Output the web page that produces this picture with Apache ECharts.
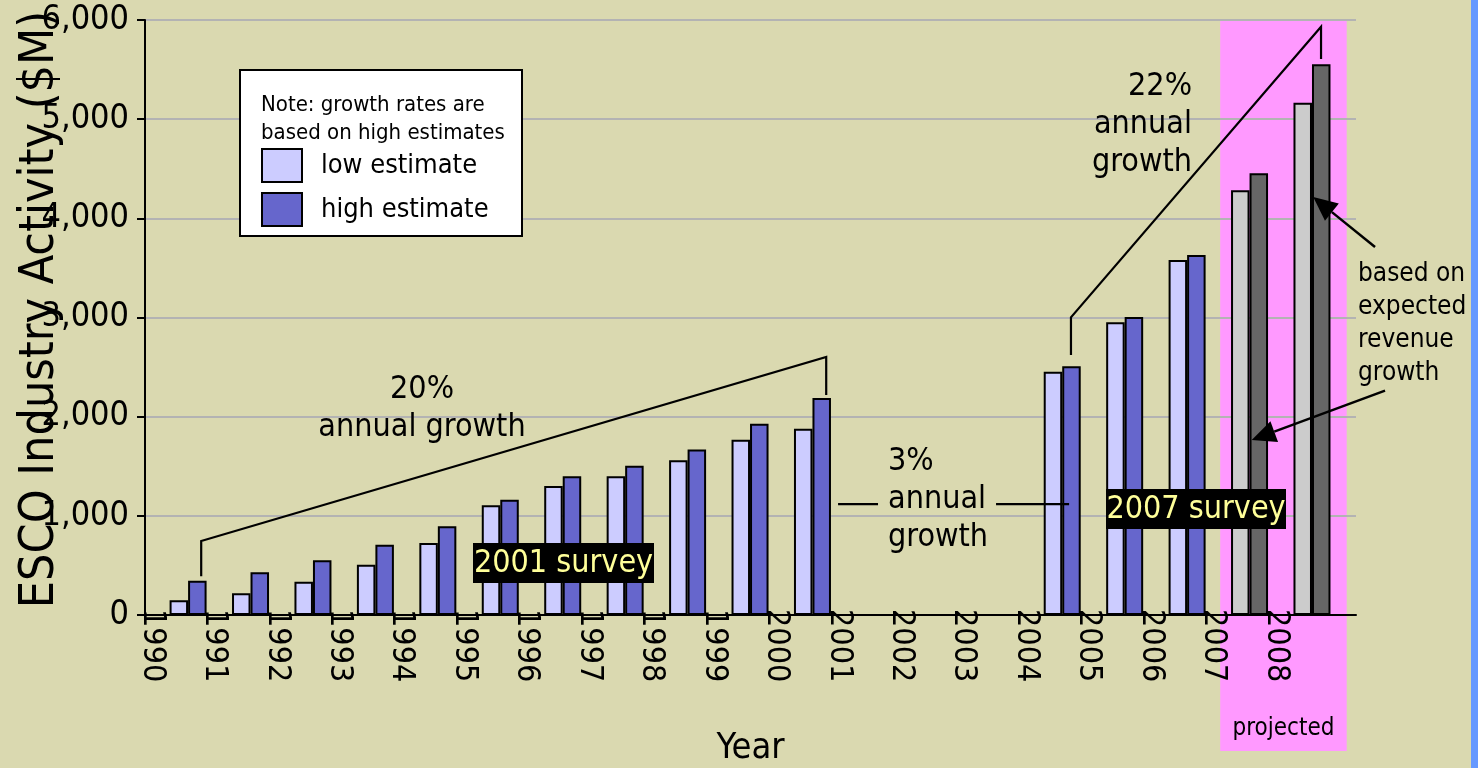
<!DOCTYPE html>
<html><head><meta charset="utf-8">
<script src="https://cdn.jsdelivr.net/npm/echarts@6/dist/echarts.min.js"></script>
<style>html,body{margin:0;padding:0;background:#DAD9B0;}#c{width:1478px;height:768px;}</style>
</head><body><div id="c"></div>
<script>
// ---- data ----
const years = [1990,1991,1992,1993,1994,1995,1996,1997,1998,1999,2000,2001,2002,2003,2004,2005,2006,2007,2008];
const lowEstimate  = [148,219,336,507,726,1106,1300,1398,1560,1767,1878,null,null,null,2453,2951,3580,4282,5166];
const highEstimate = [346,430,551,709,894,1162,1398,1505,1670,1929,2188,null,null,null,2508,3005,3630,4454,5553];
const projectedYears = [2007, 2008];
const xTickLabels = ['1990','1991','1992','1993','1994','1995','1996','1997','1998','1999','2000','2001','2002','2003','2004','2005','2006','2007','2008'];
const yTickValues = [0,1000,2000,3000,4000,5000,6000];

// annotation anchors in data coordinates [year, value]
const bracket20 = [[1990.21,390],[1990.21,746],[2000.22,2602],[2000.22,2218]];
const bracket22 = [[2004.14,2622],[2004.14,3002],[2008.145,5932],[2008.145,5606]];
const line3Left = [[2000.41,1119],[2001.05,1119]];
const line3Right = [[2002.94,1119],[2004.11,1119]];
const arrow1 = [[2009.01,3711],[2008.02,4215]];
const arrow2 = [[2009.17,2262],[2007.035,1765]];
const projectedSpan = [2006.53, 2008.556];

const FONT = "'DejaVu Sans Condensed','DejaVu Sans',sans-serif";
const labelShift = 0.577;
const LOW = '#CCCCFF', HIGH = '#6666CC', LOWP = '#CCCCCC', HIGHP = '#666666';

function items(vals, projColor) {
  return years.map((y, i) => vals[i] == null ? null : {
    value: [y, vals[i]],
    itemStyle: projectedYears.includes(y) ? {color: projColor} : undefined
  }).filter(d => d);
}

const chart = echarts.init(document.getElementById('c'), null, {renderer: 'canvas'});
chart.setOption({
  backgroundColor: '#DAD9B0',
  animation: false,
  textStyle: {fontFamily: FONT},
  grid: {left: 145, right: 122, top: 20, bottom: 153, outerBoundsMode: 'none'},
  legend: {
    orient: 'vertical', left: 261, top: 148, itemWidth: 40, itemHeight: 33, itemGap: 9,
    padding: 0, z: 10, icon: 'rect',
    textStyle: {fontFamily: FONT, fontSize: 27, color: '#000', padding: [0,0,0,14]},
    data: ['low estimate', 'high estimate']
  },
  xAxis: {
    type: 'value', min: 1989.31, max: 2008.705,
    axisLine: {show: true, onZero: true, lineStyle: {color: '#000', width: 2}},
    axisTick: {show: false},
    splitLine: {show: false},
    axisLabel: {
      rotate: -90, margin: -6, fontSize: 32, color: '#000', fontFamily: FONT,
      customValues: years.map(y => y - labelShift),
      formatter: v => xTickLabels[Math.round(v + labelShift) - years[0]] || ''
    },
    name: 'Year', nameLocation: 'middle', nameGap: 116, nameMoveOverlap: false,
    nameTextStyle: {fontSize: 36, color: '#000', fontFamily: FONT}
  },
  yAxis: {
    type: 'value', min: yTickValues[0], max: yTickValues[yTickValues.length-1], interval: 1000,
    axisLine: {show: true, lineStyle: {color: '#000', width: 2}},
    axisTick: {show: true, length: 8, lineStyle: {color: '#000', width: 2}},
    splitLine: {show: true, lineStyle: {color: '#B3B3B3', width: 2}},
    axisLabel: {fontSize: 34, color: '#000', margin: 16, fontFamily: FONT,
      formatter: v => v.toLocaleString('en-US')},
    name: 'ESCO Industry Activity ($M)', nameLocation: 'middle', nameGap: 80, nameMoveOverlap: false,
    nameTextStyle: {fontSize: 48, color: '#000', fontFamily: FONT, padding: [0, 0, 0, 16]}
  },
  series: [
    {name: 'low estimate', type: 'bar', barWidth: 18.5, barGap: '0%', z: 3,
     itemStyle: {color: LOW, borderColor: '#000', borderWidth: 2},
     data: items(lowEstimate, LOWP)},
    {name: 'high estimate', type: 'bar', barWidth: 18.5, barGap: '0%', z: 3,
     itemStyle: {color: HIGH, borderColor: '#000', borderWidth: 2},
     data: items(highEstimate, HIGHP)}
  ]
});

function P(pt) { return chart.convertToPixel({gridIndex: 0}, pt); }
function poly(pts) {
  return {type: 'polyline', z: 20, shape: {points: pts.map(P)}, style: {stroke: '#000', lineWidth: 2.2, fill: null}};
}
function arrow(pair) {
  const a = P(pair[0]), b = P(pair[1]);
  const dx = b[0]-a[0], dy = b[1]-a[1], len = Math.hypot(dx, dy);
  const ux = dx/len, uy = dy/len, L = 24, W = 11;
  const bx = b[0]-ux*L, by = b[1]-uy*L;
  return [
    {type: 'line', z: 20, shape: {x1: a[0], y1: a[1], x2: bx, y2: by}, style: {stroke: '#000', lineWidth: 2.5}},
    {type: 'polygon', z: 20, shape: {points: [[b[0], b[1]], [bx - uy*W, by + ux*W], [bx + uy*W, by - ux*W]]}, style: {fill: '#000'}}
  ];
}
function txt(x, y, text, size, align, extra) {
  return Object.assign({type: 'text', z: 25, x: x, y: y,
    style: Object.assign({text: text, fontSize: size, fontFamily: FONT, fill: '#000', align: align, verticalAlign: 'middle'}, extra || {})});
}

const pL = P([projectedSpan[0], 6000]), pR = P([projectedSpan[1], 0]);
const graphics = [
  {type: 'rect', z: -5, shape: {x: pL[0], y: pL[1], width: pR[0]-pL[0], height: 751 - pL[1]}, style: {fill: '#FF99FF'}},
  {type: 'rect', z: 30, shape: {x: 1471, y: 0, width: 7, height: 768}, style: {fill: '#6699FF'}},
  txt((pL[0]+pR[0])/2, 729, 'projected', 24, 'center'),
  poly(bracket20), poly(bracket22), poly(line3Left), poly(line3Right),
  ...arrow(arrow1), ...arrow(arrow2),
  txt(422, 409, '20%\nannual growth', 32, 'center', {lineHeight: 38}),
  txt(888, 500, '3%\nannual\ngrowth', 32, 'left', {lineHeight: 38}),
  txt(1192, 125, '22%\nannual\ngrowth', 32, 'right', {lineHeight: 38}),
  txt(1358, 324, 'based on\nexpected\nrevenue\ngrowth', 26, 'left', {lineHeight: 33}),
  {type: 'rect', z: 24, shape: {x: 473, y: 543, width: 181, height: 40}, style: {fill: '#000'}},
  txt(563.5, 564, '2001 survey', 32, 'center', {fill: '#FFFF99'}),
  {type: 'rect', z: 24, shape: {x: 1106, y: 489, width: 180, height: 40}, style: {fill: '#000'}},
  txt(1196, 510, '2007 survey', 32, 'center', {fill: '#FFFF99'}),
  {type: 'rect', z: 8, shape: {x: 240, y: 70, width: 282, height: 166}, style: {fill: '#FFFFFF', stroke: '#000', lineWidth: 2}},
  txt(261, 119, 'Note: growth rates are\nbased on high estimates', 22, 'left', {lineHeight: 28})
];
chart.setOption({graphic: {elements: graphics}});
</script></body></html>
